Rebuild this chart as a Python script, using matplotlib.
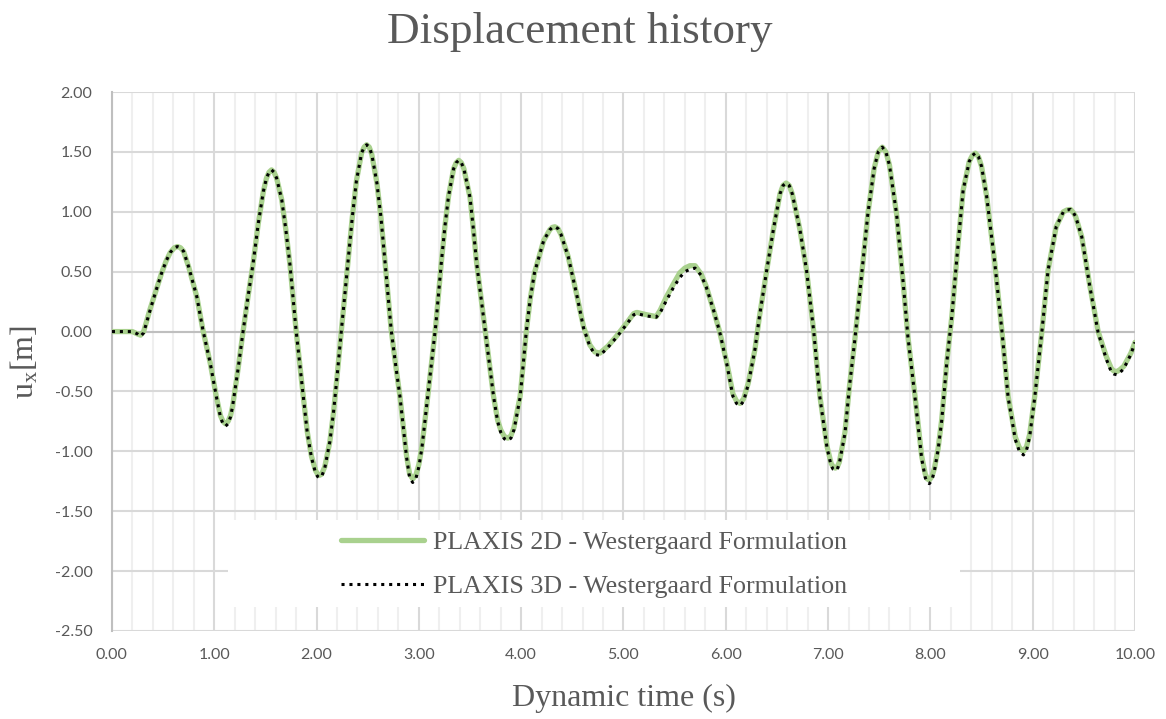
import numpy as np
import matplotlib
matplotlib.use('Agg')
import matplotlib.pyplot as plt
from matplotlib.patches import Rectangle
from matplotlib.ticker import MultipleLocator, FormatStrFormatter

# time (s) and horizontal displacement (m)
t = [0.00, 0.10, 0.20, 0.25, 0.28, 0.31, 0.37, 0.43, 0.486, 0.53,
     0.57, 0.61, 0.64, 0.67, 0.70, 0.75, 0.83, 0.89, 0.96, 1.02,
     1.06, 1.085, 1.11, 1.135, 1.16, 1.18, 1.23, 1.28, 1.33, 1.38,
     1.43, 1.48, 1.51, 1.535, 1.56, 1.585, 1.61, 1.66, 1.70, 1.74,
     1.80, 1.87, 1.91, 1.95, 1.99, 2.01, 2.03, 2.05, 2.08, 2.13,
     2.165, 2.20, 2.245, 2.31, 2.35, 2.39, 2.44, 2.465, 2.49, 2.515,
     2.54, 2.59, 2.63, 2.67, 2.73, 2.775, 2.815, 2.88, 2.91, 2.94,
     2.97, 3.00, 3.03, 3.09, 3.165, 3.22, 3.255, 3.29, 3.34, 3.365,
     3.39, 3.415, 3.44, 3.50, 3.53, 3.565, 3.65, 3.73, 3.77, 3.80,
     3.835, 3.87, 3.90, 3.93, 3.99, 4.05, 4.09, 4.13, 4.22, 4.28,
     4.305, 4.33, 4.36, 4.39, 4.46, 4.54, 4.61, 4.67, 4.72, 4.77,
     4.85, 4.93, 5.03, 5.10, 5.13, 5.23, 5.32, 5.36, 5.42, 5.49,
     5.55, 5.60, 5.65, 5.70, 5.76, 5.81, 5.88, 5.94, 6.01, 6.07,
     6.105, 6.14, 6.175, 6.22, 6.285, 6.33, 6.40, 6.465, 6.53, 6.56,
     6.59, 6.62, 6.65, 6.725, 6.79, 6.86, 6.92, 6.99, 7.03, 7.05,
     7.07, 7.09, 7.11, 7.165, 7.21, 7.26, 7.33, 7.39, 7.45, 7.49,
     7.53, 7.565, 7.60, 7.67, 7.735, 7.78, 7.85, 7.915, 7.95, 7.97,
     7.99, 8.015, 8.04, 8.075, 8.11, 8.16, 8.21, 8.26, 8.32, 8.38,
     8.41, 8.44, 8.47, 8.50, 8.55, 8.63, 8.70, 8.76, 8.83, 8.87,
     8.91, 8.94, 8.97, 9.02, 9.09, 9.15, 9.23, 9.30, 9.335, 9.37,
     9.40, 9.42, 9.48, 9.56, 9.64, 9.72, 9.77, 9.795, 9.82, 9.85,
     9.89, 9.96, 10.00]

ux_2d = [0.00, 0.00, 0.00, -0.02, -0.03, 0.00, 0.18, 0.34, 0.49, 0.59,
         0.66, 0.70, 0.71, 0.70, 0.67, 0.54, 0.29, 0.01, -0.26, -0.54,
         -0.70, -0.75, -0.77, -0.75, -0.70, -0.62, -0.33, -0.01, 0.29, 0.57,
         0.90, 1.17, 1.28, 1.33, 1.35, 1.33, 1.28, 1.10, 0.85, 0.56,
         0.01, -0.54, -0.84, -1.04, -1.16, -1.19, -1.20, -1.19, -1.13, -0.92,
         -0.68, -0.38, 0.03, 0.60, 0.96, 1.26, 1.49, 1.54, 1.56, 1.54,
         1.48, 1.24, 0.95, 0.57, 0.01, -0.29, -0.54, -1.04, -1.19, -1.23,
         -1.20, -1.11, -0.96, -0.52, 0.05, 0.58, 0.88, 1.13, 1.36, 1.41,
         1.43, 1.41, 1.36, 1.12, 0.88, 0.57, 0.00, -0.54, -0.74, -0.82,
         -0.875, -0.89, -0.87, -0.80, -0.54, 0.00, 0.28, 0.49, 0.76, 0.85,
         0.87, 0.875, 0.86, 0.81, 0.625, 0.32, 0.04, -0.11, -0.17, -0.18,
         -0.12, -0.04, 0.07, 0.15, 0.16, 0.14, 0.125, 0.18, 0.29, 0.40,
         0.49, 0.53, 0.55, 0.55, 0.48, 0.375, 0.18, 0.00, -0.26, -0.52,
         -0.58, -0.60, -0.56, -0.43, -0.15, 0.13, 0.51, 0.85, 1.15, 1.22,
         1.24, 1.22, 1.15, 0.85, 0.51, 0.00, -0.54, -0.96, -1.10, -1.13,
         -1.14, -1.13, -1.09, -0.84, -0.45, -0.08, 0.49, 0.99, 1.36, 1.50,
         1.54, 1.50, 1.39, 0.98, 0.40, -0.04, -0.54, -1.04, -1.19, -1.23,
         -1.24, -1.21, -1.14, -0.98, -0.74, -0.26, 0.13, 0.625, 1.18, 1.42,
         1.47, 1.49, 1.46, 1.38, 1.13, 0.57, 0.00, -0.54, -0.88, -0.97,
         -1.00, -0.96, -0.86, -0.54, 0.00, 0.51, 0.875, 1.00, 1.015, 1.02,
         0.99, 0.96, 0.79, 0.375, 0.00, -0.21, -0.31, -0.33, -0.335, -0.32,
         -0.29, -0.18, -0.09]

ux_3d = [0.00, 0.00, 0.00, -0.02, -0.04, -0.01, 0.17, 0.34, 0.49, 0.59,
         0.66, 0.70, 0.71, 0.70, 0.67, 0.54, 0.29, 0.01, -0.26, -0.54,
         -0.71, -0.77, -0.79, -0.77, -0.71, -0.62, -0.33, -0.01, 0.29, 0.57,
         0.90, 1.17, 1.28, 1.33, 1.35, 1.33, 1.28, 1.10, 0.85, 0.56,
         0.01, -0.54, -0.85, -1.05, -1.18, -1.21, -1.22, -1.21, -1.14, -0.92,
         -0.68, -0.38, 0.03, 0.60, 0.96, 1.26, 1.49, 1.54, 1.56, 1.54,
         1.48, 1.24, 0.95, 0.57, 0.01, -0.29, -0.54, -1.05, -1.22, -1.26,
         -1.23, -1.13, -0.97, -0.52, 0.05, 0.58, 0.88, 1.13, 1.36, 1.41,
         1.43, 1.41, 1.36, 1.12, 0.88, 0.57, 0.00, -0.54, -0.75, -0.84,
         -0.895, -0.91, -0.89, -0.82, -0.55, 0.00, 0.28, 0.49, 0.76, 0.85,
         0.87, 0.875, 0.86, 0.81, 0.625, 0.32, 0.03, -0.12, -0.19, -0.20,
         -0.13, -0.05, 0.06, 0.14, 0.15, 0.13, 0.12, 0.16, 0.26, 0.37,
         0.45, 0.50, 0.52, 0.53, 0.47, 0.37, 0.18, 0.00, -0.27, -0.54,
         -0.60, -0.62, -0.58, -0.44, -0.15, 0.13, 0.51, 0.85, 1.15, 1.22,
         1.24, 1.22, 1.15, 0.85, 0.51, 0.00, -0.55, -0.97, -1.12, -1.15,
         -1.16, -1.15, -1.10, -0.85, -0.45, -0.08, 0.49, 0.99, 1.36, 1.50,
         1.54, 1.50, 1.39, 0.98, 0.40, -0.04, -0.55, -1.06, -1.22, -1.26,
         -1.27, -1.24, -1.16, -0.99, -0.75, -0.26, 0.13, 0.625, 1.18, 1.42,
         1.47, 1.49, 1.46, 1.38, 1.13, 0.57, 0.00, -0.55, -0.90, -1.00,
         -1.03, -0.99, -0.88, -0.55, 0.00, 0.51, 0.875, 1.00, 1.015, 1.02,
         0.99, 0.96, 0.79, 0.37, -0.01, -0.23, -0.34, -0.355, -0.36, -0.345,
         -0.31, -0.19, -0.09]

labels = ['PLAXIS 2D - Westergaard Formulation', 'PLAXIS 3D - Westergaard Formulation']

plt.rcParams['mathtext.fontset'] = 'custom'
plt.rcParams['mathtext.rm'] = 'Liberation Serif'
plt.rcParams['mathtext.it'] = 'Liberation Serif'

grey = '#595959'
serif = 'Liberation Serif'

fig = plt.figure(figsize=(11.66, 7.19), dpi=100)
ax = fig.add_axes([0.096, 0.1224, 0.8774, 0.7496])

ax.plot(t, ux_2d, color='#a9d18e', lw=3.8, solid_capstyle='round',
        solid_joinstyle='round', label=labels[0], zorder=3)
ax.plot(t, ux_3d, color='black', lw=2.2, linestyle=(0, (1, 1.6)), label=labels[1], zorder=4)

ax.set_xlim(0, 10)
ax.set_ylim(-2.5, 2.0)
ax.xaxis.set_major_locator(MultipleLocator(1.0))
ax.xaxis.set_minor_locator(MultipleLocator(0.2))
ax.yaxis.set_major_locator(MultipleLocator(0.5))
ax.xaxis.set_major_formatter(FormatStrFormatter('%.2f'))
ax.yaxis.set_major_formatter(FormatStrFormatter('%.2f'))

ax.set_axisbelow(True)
ax.grid(which='major', color='#d9d9d9', lw=1.5)
ax.grid(which='minor', axis='x', color='#efefef', lw=1.5)
ax.axhline(0, color='#bfbfbf', lw=1.5, zorder=1)
for s in ['top', 'right', 'bottom']:
    ax.spines[s].set_visible(False)
ax.spines['left'].set_color('#bfbfbf')
ax.spines['left'].set_linewidth(1.5)

ax.tick_params(which='both', length=0, labelsize=11.5, labelcolor=grey)
ax.tick_params(axis='x', pad=12)
ax.tick_params(axis='y', pad=14)
for lab in ax.get_xticklabels() + ax.get_yticklabels():
    lab.set_fontfamily('Lato')

# white box behind the legend, hides the grid like the original
ax.add_patch(Rectangle((0.113, 0.045), 0.716, 0.161, transform=ax.transAxes,
                       facecolor='white', edgecolor='none', zorder=2))
leg = ax.legend(loc='center', bbox_to_anchor=(0.471, 0.124), frameon=False,
                prop={'family': serif, 'size': 18.7}, handlelength=3.2,
                handletextpad=0.35, labelspacing=0.8)
for txt in leg.get_texts():
    txt.set_color(grey)

ax.set_xlabel('Dynamic time (s)', family=serif, fontsize=23, color=grey, labelpad=16)
ax.set_ylabel(r'u$_\mathrm{x}$[m]', family=serif, fontsize=23, color=grey, labelpad=10)
fig.text(0.497, 0.955, 'Displacement history', family=serif, fontsize=32.5,
         color=grey, ha='center', va='center')

plt.savefig('out.png', dpi=100)
